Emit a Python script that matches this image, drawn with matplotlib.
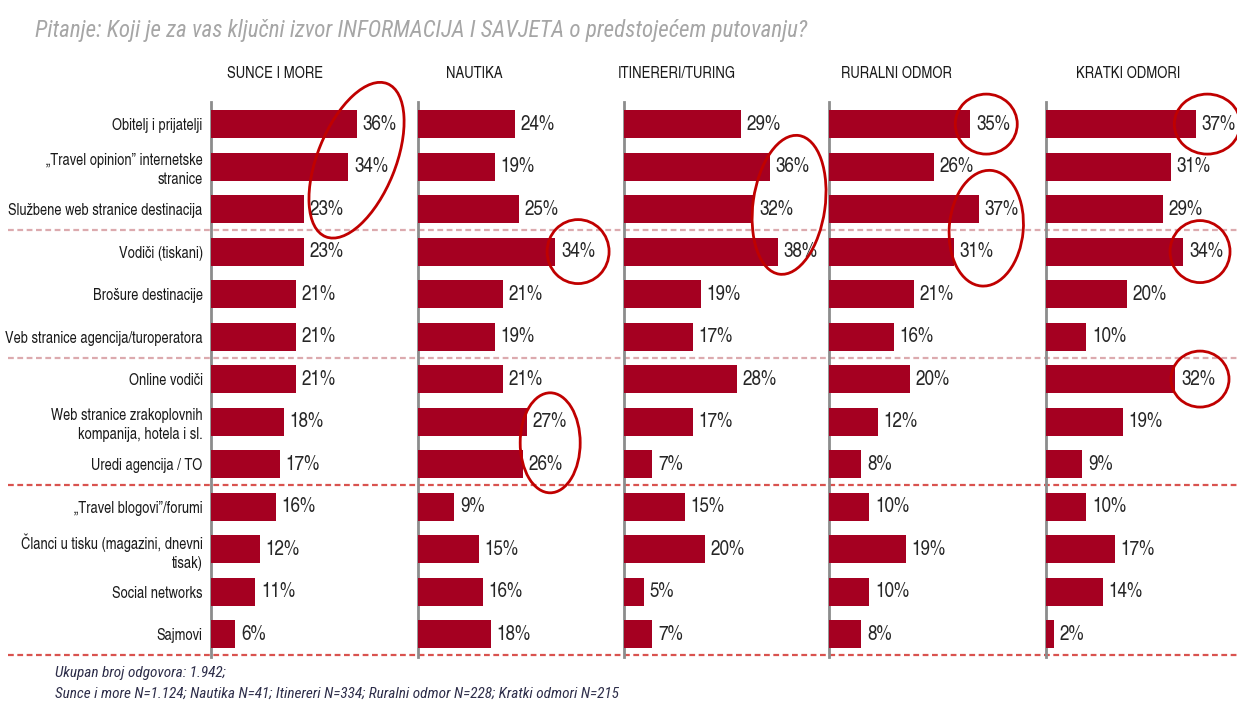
import matplotlib
matplotlib.use("Agg")
import matplotlib.pyplot as plt
from matplotlib.patches import Ellipse
import numpy as np

plt.rcParams['font.family'] = ['TeX Gyre Heros Cn', 'DejaVu Sans']

# --- data ---
title = "Pitanje: Koji je za vas ključni izvor INFORMACIJA I SAVJETA o predstojećem putovanju?"
categories = [
    "Obitelj i prijatelji",
    "„Travel opinion” internetske\nstranice",
    "Službene web stranice destinacija",
    "Vodiči (tiskani)",
    "Brošure destinacije",
    "Veb stranice agencija/turoperatora",
    "Online vodiči",
    "Web stranice zrakoplovnih\nkompanija, hotela i sl.",
    "Uredi agencija / TO",
    "„Travel blogovi”/forumi",
    "Članci u tisku (magazini, dnevni\ntisak)",
    "Social networks",
    "Sajmovi",
]
segments = ["SUNCE I MORE", "NAUTIKA", "ITINERERI/TURING", "RURALNI ODMOR", "KRATKI ODMORI"]
sunce = [36, 34, 23, 23, 21, 21, 21, 18, 17, 16, 12, 11, 6]
nautika = [24, 19, 25, 34, 21, 19, 21, 27, 26, 9, 15, 16, 18]
itinereri = [29, 36, 32, 38, 19, 17, 28, 17, 7, 15, 20, 5, 7]
ruralni = [35, 26, 37, 31, 21, 16, 20, 12, 8, 10, 19, 10, 8]
kratki = [37, 31, 29, 34, 20, 10, 32, 19, 9, 10, 17, 14, 2]
series = [sunce, nautika, itinereri, ruralni, kratki]
group_breaks = [2.5, 5.5, 8.5, 12.5]   # dashed separators between row groups
footnote1 = "Ukupan broj odgovora: 1.942;"
footnote2 = "Sunce i more N=1.124; Nautika N=41; Itinereri N=334; Ruralni odmor N=228; Kratki odmori N=215"

# highlighted answers: (panel, rows, x shift, y shift, width px, height px, angle)
highlights = [
    (0, [0, 1, 2], 5.0, -0.15, 78, 165, -22),
    (1, [3], 5.6, 0, 62, 64, 0),
    (1, [7, 8], 6.2, 0, 60, 100, 0),
    (2, [1, 2, 3], 5.5, -0.1, 72, 140, -8),
    (3, [0], 3.9, 0, 62, 60, 0),
    (3, [2, 3], 4.9, -0.05, 74, 116, -5),
    (4, [0], 2.9, 0, 66, 60, 0),
    (4, [3], 4.1, 0, 60, 62, 0),
    (4, [6], 6.1, 0, 58, 56, 0),
]

W, H = 1237, 702
BAR = '#a50021'
RING = '#c00000'

fig = plt.figure(figsize=(W / 100, H / 100), dpi=100)
fig.patch.set_facecolor('white')

panel_left = [211, 418, 624, 829, 1046]
head_off = [64, 56, 53, 67, 82]
top_px, bot_px = 102, 657
n = len(categories)
rows = np.arange(n)
axes = []
for i, vals in enumerate(series):
    ax = fig.add_axes([panel_left[i] / W, (H - bot_px) / H, 190 / W, (bot_px - top_px) / H])
    ax.barh(rows, vals, height=0.66, color=BAR, zorder=3)
    for r, v in zip(rows, vals):
        ax.text(v + 1.4, r, f"{v}%", va='center', ha='left', fontsize=15,
                color='#262626', zorder=4)
    ax.set_xlim(0, 47)
    ax.set_ylim(n - 0.46, -0.52)
    for s in ['top', 'right', 'bottom']:
        ax.spines[s].set_visible(False)
    ax.spines['left'].set_color('#8c8c8c')
    ax.spines['left'].set_linewidth(2)
    ax.set_xticks([])
    ax.patch.set_alpha(0)
    if i == 0:
        ax.set_yticks(rows)
        ax.set_yticklabels(categories, fontsize=11.3, color='#1a1a1a', linespacing=1.3)
        ax.tick_params(axis='y', length=0, pad=6)
    else:
        ax.set_yticks([])
    fig.text((panel_left[i] + head_off[i]) / W, 1 - 73 / H, segments[i],
             ha='center', va='center', fontsize=11.5, color='#1a1a1a')
    axes.append(ax)

# overlay in pixel coordinates for separators and rings
ov = fig.add_axes([0, 0, 1, 1], zorder=-1)
ov.set_xlim(0, W)
ov.set_ylim(0, H)
ov.axis('off')
ov.patch.set_alpha(0)
for k, b in enumerate(group_breaks):
    _, yp = axes[0].transData.transform((0, b))
    col = '#dcaaae' if k < 2 else '#d9534f'
    ov.plot([8, W], [yp, yp], color=col, lw=1.6, ls=(0, (2.6, 1.6)), zorder=1)

ov2 = fig.add_axes([0, 0, 1, 1], zorder=10)
ov2.set_xlim(0, W)
ov2.set_ylim(0, H)
ov2.axis('off')
ov2.patch.set_alpha(0)
for p, rs, dx, dy, w, h, ang in highlights:
    vals = [series[p][r] for r in rs]
    cx, cy = axes[p].transData.transform((np.mean(vals) + dx, np.mean(rs) + dy))
    ov2.add_patch(Ellipse((cx, cy), w, h, angle=ang, fill=False,
                          edgecolor=RING, lw=2.0, clip_on=False))

fig.text(35 / W, 1 - 30 / H, title, ha='left', va='center', fontsize=16.6,
         style='italic', color='#a6a6a6', family=['Roboto Condensed', 'DejaVu Sans'])
fig.text(55 / W, 1 - 673 / H, footnote1, ha='left', va='center', fontsize=11,
         style='italic', color='#2e2e4a', family=['Roboto Condensed', 'DejaVu Sans'])
fig.text(55 / W, 1 - 694 / H, footnote2, ha='left', va='center', fontsize=11,
         style='italic', color='#2e2e4a', family=['Roboto Condensed', 'DejaVu Sans'])

fig.savefig('out.png', dpi=100)
